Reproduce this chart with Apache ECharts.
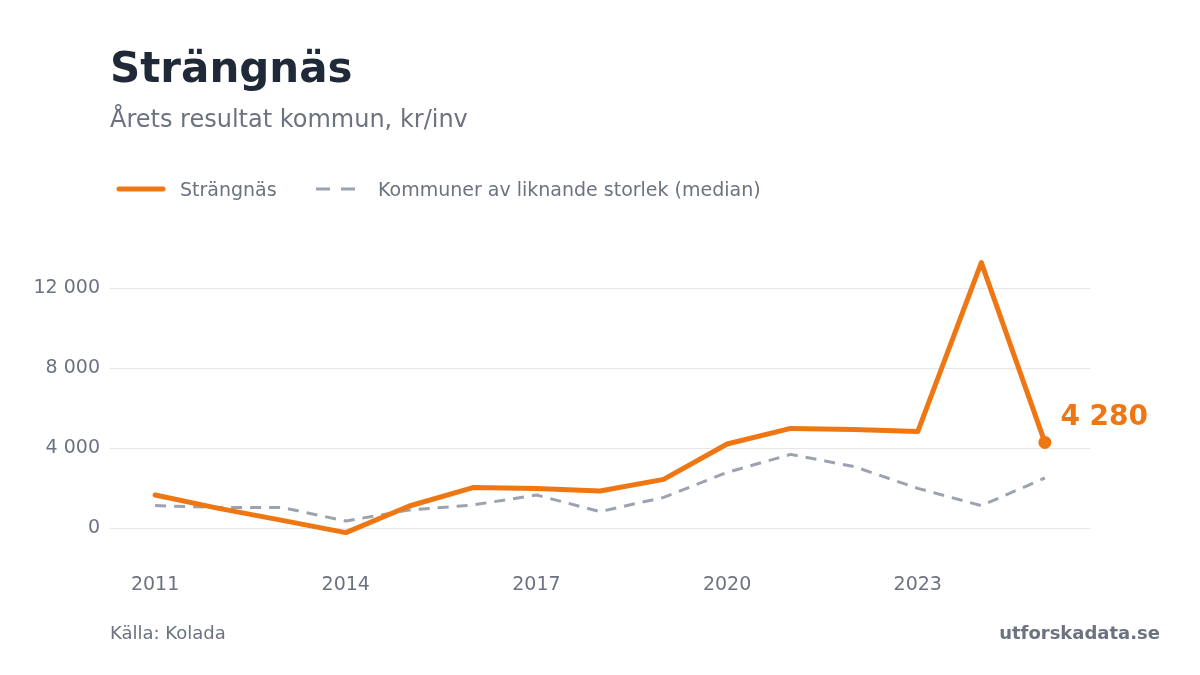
<!DOCTYPE html>
<html><head><meta charset="utf-8">
<script src="https://cdn.jsdelivr.net/npm/echarts@6/dist/echarts.min.js"></script>
<style>html,body{margin:0;padding:0;background:#fff}#c{width:1200px;height:675px}</style>
</head><body><div id="c"></div>
<script>
const years = [2011,2012,2013,2014,2015,2016,2017,2018,2019,2020,2021,2022,2023,2024,2025];
const strangnas = [1650,980,380,-230,1100,2020,1980,1850,2430,4200,4980,4930,4820,13270,4280];
const median = [1120,1030,1020,350,900,1150,1650,820,1530,2780,3680,3070,1980,1120,2500];
const yTicks = [0,4000,8000,12000];
const xTicks = [2011,2014,2017,2020,2023];
const seriesNames = ['Strängnäs','Kommuner av liknande storlek (median)'];

const ORANGE = '#ef7713';
const GRAY = '#9ca3af';
const TXT = '#6b7280';
const fmt = v => String(v).replace(/\B(?=(\d{3})+(?!\d))/g, '\u00a0');
const FONT = 'DejaVu Sans';

const chart = echarts.init(document.getElementById('c'), null, {renderer:'canvas'});
const lastIdx = years.length - 1;
chart.setOption({
  backgroundColor:'#fff',
  animation:false,
  textStyle:{fontFamily:FONT},
  title:[
    {text:'Strängnäs', left:110, top:50, padding:0, textStyle:{fontFamily:FONT, fontSize:42, fontWeight:'bold', color:'#1f2937'}},
    {text:'Årets resultat kommun, kr/inv', left:110, top:109, padding:0, textStyle:{fontFamily:FONT, fontSize:24, fontWeight:'normal', color:TXT}},
    {text:'Källa: Kolada', left:110, top:625, padding:0, textStyle:{fontFamily:FONT, fontSize:18, fontWeight:'normal', color:TXT}},
    {text:'utforskadata.se', right:40, top:625, padding:0, textStyle:{fontFamily:FONT, fontSize:18, fontWeight:'bold', color:TXT}}
  ],
  legend:{show:false},
  graphic:[
    {type:'line', shape:{x1:119, y1:189, x2:163, y2:189}, style:{stroke:ORANGE, lineWidth:5, lineCap:'round'}},
    {type:'text', left:180, top:182, style:{text:seriesNames[0], font:'19px "DejaVu Sans"', fill:TXT}},
    {type:'line', shape:{x1:316, y1:189, x2:356, y2:189}, style:{stroke:GRAY, lineWidth:3, lineDash:[14,11]}},
    {type:'text', left:378, top:182, style:{text:seriesNames[1], font:'19px "DejaVu Sans"', fill:TXT}}
  ],
  grid:{left:110, right:110, top:238, bottom:110, containLabel:false},
  xAxis:{
    type:'value', min:2010.29, max:2025.71,
    axisLine:{show:true, lineStyle:{color:'#e5e7eb', width:1}},
    axisTick:{show:false, customValues:xTicks},
    splitLine:{show:false},
    axisLabel:{customValues:xTicks, formatter:v=>String(v), fontFamily:FONT, fontSize:19, color:TXT, margin:11}
  },
  yAxis:{
    type:'value', min:-1850, max:14500,
    axisLine:{show:false},
    axisTick:{show:false, customValues:yTicks},
    splitLine:{show:true, lineStyle:{color:'#e5e7eb', width:1}},
    axisLabel:{customValues:yTicks, formatter:fmt, fontFamily:FONT, fontSize:19, color:TXT, margin:10}
  },
  series:[
    {name:seriesNames[1], type:'line', data:years.map((y,i)=>[y,median[i]]), showSymbol:false, symbol:'none',
     lineStyle:{color:GRAY, width:3, type:[11,8]}, itemStyle:{color:GRAY}, z:2},
    {name:seriesNames[0], type:'line', data:years.map((y,i)=>[y,strangnas[i]]), showSymbol:false, symbol:'none',
     lineStyle:{color:ORANGE, width:5, cap:'round', join:'round'}, itemStyle:{color:ORANGE}, z:3},
    {name:'end', type:'scatter', data:[[years[lastIdx], strangnas[lastIdx]]], symbol:'circle', symbolSize:13,
     itemStyle:{color:ORANGE, opacity:1}, z:4,
     label:{show:true, position:'right', offset:[4,-25], formatter:p=>fmt(p.value[1]), fontFamily:FONT, fontSize:28, fontWeight:'bold', color:ORANGE, opacity:1}}
  ]
});
</script></body></html>
